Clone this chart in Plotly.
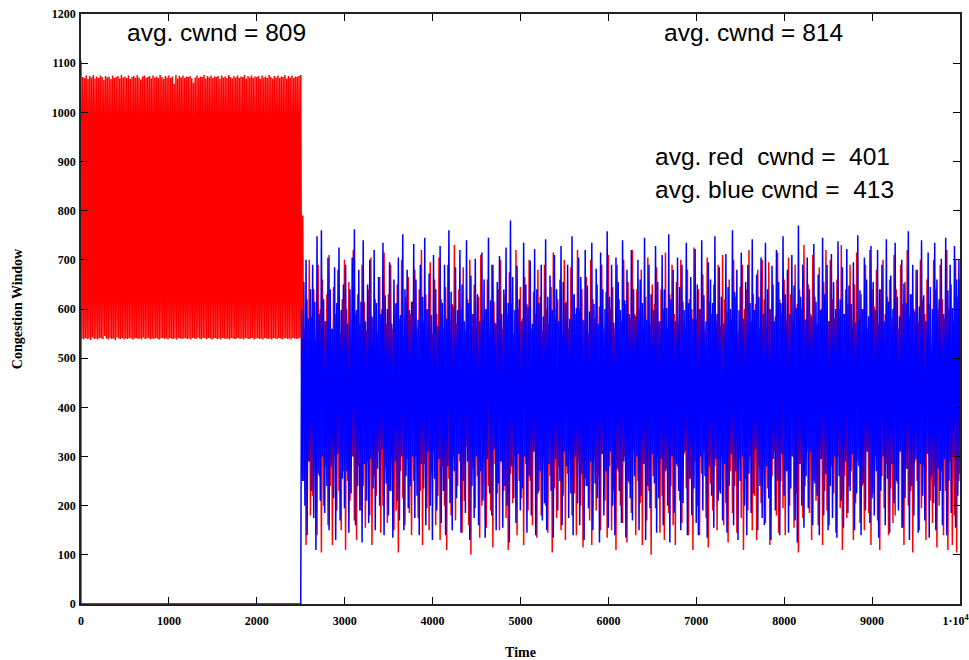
import numpy as np
import plotly.graph_objects as go

# ---------------- data ----------------
# Phase 1 (t = 0..2500): only the red flow is active
red1_t_start, red1_t_end = 0, 2500
red1_highs = [1105, 1072, 1070, 1075, 1068, 1074, 1071, 1076, 1069, 1073,
              1070, 1075, 1072, 1066, 1074, 1071, 1073, 1068, 1075, 1070,
              1072, 1074, 1069, 1076, 1071, 1073, 1070, 1075, 1068, 1072,
              1074, 1070, 1076, 1071, 1067, 1073, 1075, 1070, 1072, 1074,
              1069, 1075, 1071, 1073, 1070, 1076, 1072, 1068, 1074, 1071,
              1075, 1070, 1073, 1058, 1076, 1069, 1074, 1071, 1075, 1070,
              1073, 1072, 1074, 1069, 1060, 1071, 1075, 1070, 1073, 1072,
              1076, 1069, 1074, 1071, 1075, 1070, 1073, 1072, 1074, 1068,
              1075, 1071, 1073, 1070, 1076, 1072, 1069, 1074, 1071, 1075,
              1070, 1073, 1072, 1076, 1069, 1074, 1071, 1075, 1070, 1073,
              1072, 1074, 1068, 1075, 1071, 1073, 1070, 1076, 1072, 1069,
              1074, 1071, 1075, 1070, 1073, 1072, 1076, 1069, 1074, 1071,
              1075, 1070, 1073, 1072, 1074, 1076]
red1_lows = [540, 538, 541, 539, 540, 537, 542, 539, 540, 538,
             541, 540, 539, 545, 540, 538, 541, 539, 540, 537,
             542, 540, 539, 541, 538, 540, 539, 541, 540, 538,
             540, 541, 539, 540, 538, 542, 539, 540, 541, 538,
             540, 539, 541, 540, 538, 540, 541, 539, 540, 538,
             541, 540, 539, 540, 538, 541, 540, 539, 540, 541,
             539, 540, 538, 541, 540, 539, 542, 540, 538, 541,
             540, 539, 541, 540, 538, 540, 541, 539, 540, 538,
             541, 540, 539, 540, 538, 541, 540, 539, 540, 541,
             539, 540, 538, 541, 540, 539, 540, 541, 538, 540,
             541, 539, 540, 538, 541, 540, 539, 540, 538, 541,
             540, 539, 541, 540, 538, 540, 541, 539, 540, 538,
             541, 540, 539, 540, 541]
blue1_t = [0, 2500]
blue1_vals = [0, 0]

# Phase 2 (t = 2500..10000): both flows share the link
t2_start, t2_end = 2510, 10000
blue_peaks = [600, 655, 700, 580, 640, 690, 615, 748, 590, 760,
              620, 575, 705, 640, 560, 685, 612, 725, 598, 650,
              690, 570, 640, 705, 762, 598, 680, 615, 740, 575,
              650, 700, 585, 720, 612, 665, 590, 735, 628, 600,
              695, 570, 660, 612, 705, 588, 752, 640, 680, 598,
              615, 732, 660, 578, 690, 625, 745, 600, 672, 588,
              710, 640, 565, 728, 612, 690, 580, 760, 635, 605,
              685, 598, 720, 650, 575, 740, 612, 668, 590, 702,
              630, 575, 715, 660, 600, 745, 618, 690, 572, 655,
              708, 590, 640, 725, 612, 780, 665, 598, 688, 620,
              575, 735, 650, 605, 698, 570, 722, 640, 612, 690,
              585, 742, 625, 668, 598, 710, 640, 575, 728, 655,
              612, 690, 580, 748, 630, 602, 705, 665, 578, 720,
              648, 595, 735, 610, 682, 570, 715, 640, 600, 758,
              625, 690, 572, 705, 655, 598, 740, 618, 680, 590,
              720, 640, 585, 700, 660, 612, 745, 578, 690, 630,
              598, 728, 655, 575, 710, 640, 602, 752, 620, 680,
              575, 705, 645, 690, 598, 735, 612, 665, 580, 722,
              650, 600, 740, 628, 575, 695, 660, 612, 748, 590,
              685, 625, 570, 712, 645, 600, 760, 635, 680, 598,
              715, 580, 655, 690, 612, 742, 598, 670, 625, 705,
              590, 735, 640, 600, 688, 575, 720, 655, 612, 748,
              630, 680, 590, 710, 648, 602, 770, 625, 690, 578,
              705, 640, 585, 732, 615, 670, 598, 745, 630, 690,
              575, 712, 655, 600, 738, 620, 685, 590, 722, 648,
              610, 695, 572, 750, 638, 600, 705, 660, 585, 728,
              655, 598, 720, 640, 690, 575, 742, 615, 668, 600,
              735, 625, 585, 700, 652, 612, 758, 630, 690, 595,
              680, 605, 740, 628, 575, 715, 645, 600, 735, 660,
              620, 702, 590, 745, 638, 690, 602, 728, 660, 700]
blue_troughs = [250, 200, 140, 290, 230, 175, 110, 265, 210, 300,
                185, 240, 150, 280, 215, 130, 305, 170, 255, 195,
                270, 145, 225, 300, 160, 240, 190, 125, 285, 210,
                165, 295, 235, 150, 275, 200, 315, 140, 245, 180,
                230, 135, 290, 210, 170, 300, 150, 260, 195, 240,
                300, 175, 220, 140, 285, 235, 160, 310, 200, 130,
                255, 190, 295, 165, 230, 140, 280, 205, 150, 270,
                215, 305, 145, 250, 185, 290, 130, 240, 175, 300,
                160, 270, 210, 135, 295, 225, 180, 315, 150, 245,
                290, 155, 240, 200, 125, 280, 215, 165, 305, 190,
                235, 300, 145, 260, 180, 310, 140, 225, 270, 170,
                205, 150, 285, 230, 135, 295, 190, 250, 160, 310,
                280, 175, 225, 140, 300, 205, 160, 265, 130, 240,
                195, 290, 150, 245, 215, 125, 305, 180, 270, 155,
                310, 200, 140, 275, 230, 165, 290, 135, 250, 215,
                170, 260, 300, 150, 220, 285, 130, 240, 195, 305,
                245, 145, 215, 295, 160, 270, 200, 125, 300, 185,
                285, 230, 150, 205, 310, 140, 255, 180, 235, 165,
                140, 300, 190, 260, 135, 280, 220, 155, 295, 210,
                225, 170, 285, 145, 240, 305, 160, 270, 130, 250,
                300, 200, 140, 265, 185, 225, 315, 150, 240, 175,
                160, 280, 215, 130, 295, 190, 250, 140, 305, 220,
                270, 145, 235, 300, 170, 125, 285, 200, 155, 260,
                195, 310, 160, 245, 220, 140, 295, 180, 265, 150,
                240, 175, 300, 135, 260, 210, 155, 290, 185, 230,
                305, 150, 225, 280, 140, 245, 190, 310, 165, 215,
                180, 270, 135, 230, 300, 160, 255, 145, 285, 205,
                250, 190, 310, 155, 215, 275, 130, 240, 180, 295,
                145, 285, 220, 170, 305, 135, 260, 205, 150, 275,
                230, 160, 295, 140, 250, 185, 300, 155, 220, 265]
red_peaks = [790, 560, 620, 700, 585, 640, 540, 690, 600, 660,
             575, 630, 710, 560, 645, 590, 680, 550, 620, 700,
             600, 655, 540, 720, 590, 630, 570, 690, 615, 555,
             640, 705, 580, 620, 550, 665, 600, 715, 570, 630,
             690, 560, 610, 650, 580, 700, 545, 625, 665, 590,
             615, 680, 560, 640, 720, 575, 630, 600, 695, 550,
             660, 590, 705, 620, 560, 645, 690, 575, 610, 730,
             570, 640, 600, 685, 555, 620, 700, 590, 650, 560,
             625, 710, 580, 600, 660, 545, 690, 615, 570, 640,
             700, 560, 630, 590, 675, 610, 550, 720, 600, 645,
             580, 665, 610, 700, 560, 635, 590, 680, 625, 555,
             690, 600, 570, 645, 715, 580, 620, 660, 550, 700,
             615, 560, 685, 630, 590, 720, 600, 640, 575, 665,
             550, 700, 620, 580, 650, 605, 690, 560, 635, 710,
             600, 645, 560, 690, 620, 575, 700, 610, 655, 580,
             720, 590, 640, 600, 680, 555, 625, 705, 570, 650,
             610, 685, 575, 640, 600, 715, 560, 630, 690, 590,
             655, 570, 700, 615, 550, 680, 620, 600, 725, 580,
             640, 600, 670, 560, 705, 615, 590, 650, 575, 690,
             565, 710, 620, 595, 660, 580, 700, 625, 555, 645,
             690, 600, 640, 720, 575, 630, 610, 680, 560, 700,
             620, 560, 695, 600, 650, 585, 715, 620, 590, 660,
             575, 705, 630, 560, 690, 610, 640, 600, 730, 580,
             650, 590, 710, 625, 570, 685, 600, 655, 720, 575,
             700, 620, 580, 660, 600, 730, 590, 640, 610, 690,
             560, 650, 715, 580, 630, 600, 690, 560, 720, 640,
             605, 680, 570, 640, 700, 590, 625, 660, 580, 710,
             640, 560, 690, 610, 655, 720, 585, 630, 600, 680,
             575, 700, 620, 590, 660, 610, 430, 700, 640, 600,
             690, 620, 580, 720, 600, 650, 575, 700, 625, 660]
red_troughs = [470, 250, 120, 290, 180, 220, 310, 140, 260, 105,
               200, 280, 160, 240, 120, 300, 190, 230, 150, 270,
               110, 250, 210, 300, 170, 130, 280, 190, 240, 155,
               290, 180, 120, 260, 220, 310, 145, 200, 275, 165,
               230, 300, 150, 190, 105, 270, 215, 160, 295, 185,
               140, 250, 300, 175, 230, 120, 285, 195, 150, 265,
               310, 160, 220, 130, 280, 200, 110, 255, 180, 300,
               170, 240, 290, 145, 210, 320, 160, 100, 275, 195,
               260, 135, 200, 300, 155, 240, 190, 115, 285, 225,
               150, 290, 230, 175, 110, 265, 205, 300, 140, 250,
               215, 120, 285, 190, 250, 160, 310, 135, 230, 180,
               300, 200, 145, 260, 105, 235, 175, 280, 150, 220,
               130, 265, 310, 180, 225, 140, 290, 200, 115, 255,
               240, 170, 120, 295, 190, 260, 150, 305, 210, 135,
               280, 150, 230, 110, 270, 200, 165, 300, 125, 245,
               185, 310, 140, 250, 205, 120, 285, 170, 230, 100,
               260, 195, 300, 145, 220, 130, 275, 185, 240, 160,
               120, 280, 210, 165, 305, 235, 140, 255, 110, 290,
               200, 140, 265, 310, 175, 115, 245, 190, 280, 150,
               230, 300, 160, 205, 125, 270, 185, 240, 145, 295,
               175, 110, 255, 190, 300, 150, 220, 130, 280, 205,
               290, 165, 235, 120, 260, 310, 180, 145, 250, 195,
               140, 270, 200, 300, 155, 225, 105, 285, 175, 240,
               310, 185, 130, 250, 210, 160, 295, 120, 230, 190,
               160, 280, 225, 145, 300, 195, 110, 260, 175, 240,
               270, 130, 205, 290, 165, 240, 150, 310, 185, 120,
               225, 300, 170, 110, 260, 195, 285, 140, 235, 165,
               180, 245, 310, 155, 120, 275, 200, 230, 105, 290,
               250, 150, 195, 280, 130, 305, 210, 165, 240, 115,
               200, 270, 140, 230, 110, 290, 120, 180, 105, 250]

x_tickvals = [0, 1000, 2000, 3000, 4000, 5000, 6000, 7000, 8000, 9000, 10000]
x_ticktext = ["0", "1000", "2000", "3000", "4000", "5000", "6000", "7000",
              "8000", "9000", "1·10<sup>4</sup>\u00a0\u00a0\u00a0"]
y_tickvals = [0, 100, 200, 300, 400, 500, 600, 700, 800, 900, 1000, 1100, 1200]

annotations_text = ["avg. cwnd = 809", "avg. cwnd = 814",
                    "avg. red\u00a0\u00a0cwnd =\u00a0\u00a0401",
                    "avg. blue cwnd =\u00a0\u00a0413"]

# ---------------- build series ----------------
red1_vals = [0]
for i in range(len(red1_highs)):
    red1_vals.append(red1_highs[i])
    if i < len(red1_lows):
        red1_vals.append(red1_lows[i])
red1_t = [0] + list(np.linspace(red1_t_start, red1_t_end, len(red1_vals) - 1))

red2_vals = []
for lo, hi in zip(red_troughs, red_peaks):
    red2_vals += [lo, hi]
blue2_vals = []
for hi, lo in zip(blue_peaks, blue_troughs):
    blue2_vals += [hi, lo]
t2 = list(np.linspace(t2_start, t2_end, len(blue2_vals)))

red_t = red1_t + t2
red_v = red1_vals + red2_vals
blue_t = blue1_t + t2
blue_v = blue1_vals + blue2_vals

fig = go.Figure()
fig.add_trace(go.Scatter(x=red_t, y=red_v, mode="lines",
                         line=dict(color="#ff0000", width=1.5, simplify=False),
                         showlegend=False))
fig.add_trace(go.Scatter(x=blue_t, y=blue_v, mode="lines",
                         line=dict(color="#0000ff", width=1.5, simplify=False),
                         showlegend=False))

tickfont = dict(family="Liberation Serif", size=12, color="black", weight="bold")
fig.update_xaxes(range=[0, 10000], tickvals=x_tickvals, ticktext=x_ticktext,
                 ticks="inside", ticklen=7, tickcolor="black", tickwidth=1.2,
                 showline=True, linecolor="#222", linewidth=1.5, mirror="ticks",
                 showgrid=False, zeroline=False, tickfont=tickfont,
                 ticklabelstandoff=5, ticklabeloverflow="allow", automargin=False,
                 title=dict(text="Time", font=dict(family="Liberation Serif", size=14,
                                                   color="black", weight="bold"),
                            standoff=21))
fig.update_yaxes(range=[0, 1200], tickvals=y_tickvals,
                 ticks="inside", ticklen=7, tickcolor="black", tickwidth=1.2,
                 showline=True, linecolor="#222", linewidth=1.5, mirror="ticks",
                 showgrid=False, zeroline=False, tickfont=tickfont,
                 ticklabelstandoff=1, automargin=False,
                 title=dict(text="Congestion Window",
                            font=dict(family="Liberation Serif", size=14,
                                      color="black", weight="bold"),
                            standoff=26))

ann_pos = [(0.050, 0.968), (0.661, 0.968), (0.651, 0.758), (0.651, 0.702)]
for txt, (ax, ay) in zip(annotations_text, ann_pos):
    fig.add_annotation(text=txt, x=ax, y=ay, xref="paper", yref="paper",
                       xanchor="left", yanchor="middle", showarrow=False,
                       font=dict(family="Liberation Sans", size=24.5, color="black"))

fig.update_layout(width=969, height=660, plot_bgcolor="white", paper_bgcolor="white",
                  margin=dict(l=81, r=9, t=14, b=56))
fig.write_html("out.html")
